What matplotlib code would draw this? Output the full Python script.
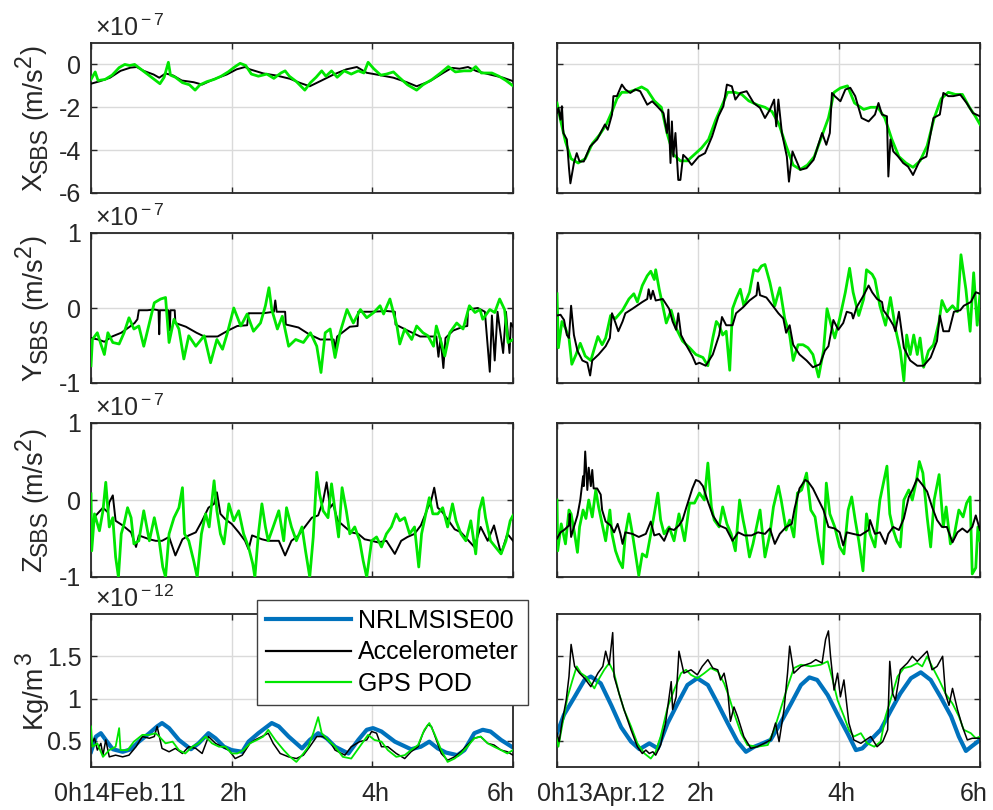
import numpy as np
import matplotlib
matplotlib.use('Agg')
import matplotlib.pyplot as plt
from matplotlib.lines import Line2D
from matplotlib.transforms import IdentityTransform

plt.rcParams['font.family'] = ['Liberation Sans', 'DejaVu Sans']
plt.rcParams['mathtext.fontset'] = 'custom'
plt.rcParams['mathtext.rm'] = 'Liberation Sans'
plt.rcParams['mathtext.it'] = 'Liberation Sans:italic'
plt.rcParams['axes.unicode_minus'] = False

# ---- data: (hour, value) ----
# X_SBS [1e-7 m/s^2]
X_FEB_ACC = [(0, -0.9), (0.13, -0.78), (0.27, -0.62), (0.42, -0.3), (0.56, -0.15), (0.65, -0.12), (0.75, -0.3),
             (0.89, -0.47), (0.97, -0.62), (1.06, -0.42), (1.17, -0.52), (1.29, -0.75), (1.46, -0.83), (1.58, -0.94),
             (1.74, -0.7), (1.93, -0.47), (2.07, -0.23), (2.19, -0.12), (2.26, -0.23), (2.45, -0.42), (2.64, -0.52),
             (2.83, -0.67), (2.97, -0.86), (3.11, -1.02), (3.26, -0.78), (3.45, -0.47), (3.63, -0.23), (3.78, -0.12),
             (3.92, -0.39), (4.11, -0.5), (4.3, -0.62), (4.49, -0.83), (4.63, -1.02), (4.82, -0.78), (5.01, -0.39),
             (5.13, -0.16), (5.24, -0.2), (5.36, -0.12), (5.48, -0.31), (5.67, -0.47), (5.86, -0.62), (6.0, -0.78)]
X_FEB_GPS = [(0, -0.7), (0.06, -0.35), (0.1, -0.75), (0.2, -0.7), (0.3, -0.5), (0.4, -0.15), (0.48, 0.0),
             (0.55, -0.05), (0.62, 0.0), (0.7, -0.2), (0.8, -0.45), (0.9, -0.7), (0.98, -0.9), (1.04, -0.6),
             (1.1, 0.1), (1.13, -0.5), (1.2, -0.6), (1.3, -0.85), (1.4, -0.95), (1.48, -1.2), (1.55, -0.95),
             (1.65, -0.8), (1.75, -0.7), (1.85, -0.55), (1.95, -0.35), (2.05, -0.1), (2.12, 0.05), (2.2, -0.05),
             (2.28, -0.45), (2.38, -0.55), (2.5, -0.45), (2.6, -0.65), (2.7, -0.4), (2.76, -0.3), (2.82, -0.55),
             (2.92, -0.8), (3.04, -1.2), (3.12, -0.85), (3.2, -0.6), (3.28, -0.3), (3.34, -0.55), (3.42, -0.3),
             (3.5, -0.6), (3.6, -0.3), (3.7, -0.45), (3.8, -0.3), (3.88, -0.4), (3.94, 0.1), (4.02, -0.2),
             (4.12, -0.5), (4.2, -0.45), (4.3, -0.35), (4.38, -0.6), (4.5, -0.95), (4.63, -1.2), (4.72, -0.95),
             (4.85, -0.7), (4.97, -0.4), (5.08, -0.1), (5.18, -0.35), (5.3, -0.3), (5.4, -0.3), (5.47, -0.1),
             (5.55, -0.4), (5.7, -0.4), (5.8, -0.55), (5.9, -0.75), (6.0, -1.0)]
X_APR_ACC = [(0, -2.27), (0.02, -2.03), (0.05, -2.58), (0.07, -1.95), (0.09, -3.2), (0.14, -3.5), (0.17, -4.84),
             (0.19, -5.55), (0.24, -4.6), (0.28, -4.14), (0.32, -4.53), (0.38, -4.53), (0.47, -3.83), (0.57, -3.5),
             (0.68, -2.8), (0.72, -3.05), (0.78, -2.34), (0.8, -1.48), (0.85, -1.48), (0.92, -0.94), (0.97, -1.17),
             (1.04, -1.33), (1.11, -1.17), (1.18, -1.25), (1.28, -1.88), (1.35, -1.72), (1.42, -1.95), (1.51, -2.27),
             (1.56, -3.2), (1.58, -2.11), (1.61, -4.6), (1.63, -2.66), (1.65, -4.3), (1.68, -3.2), (1.72, -5.39),
             (1.75, -5.39), (1.79, -4.22), (1.84, -4.38), (1.91, -4.69), (2.01, -4.3), (2.1, -4.14), (2.2, -3.36),
             (2.29, -2.42), (2.36, -1.95), (2.41, -0.94), (2.48, -1.02), (2.53, -1.64), (2.6, -1.33), (2.69, -1.25),
             (2.79, -1.8), (2.88, -2.03), (2.95, -2.5), (3.02, -2.11), (3.08, -1.64), (3.11, -2.89), (3.14, -1.64),
             (3.19, -3.2), (3.26, -4.3), (3.29, -5.47), (3.34, -4.06), (3.45, -4.92), (3.54, -4.84), (3.64, -4.45),
             (3.76, -3.2), (3.82, -3.75), (3.87, -3.2), (3.9, -1.33), (3.94, -1.48), (4.02, -1.72), (4.09, -1.17),
             (4.16, -1.09), (4.23, -1.48), (4.32, -2.5), (4.42, -2.66), (4.51, -2.34), (4.56, -1.8), (4.61, -2.34),
             (4.68, -2.42), (4.7, -5.23), (4.73, -3.5), (4.77, -4.06), (4.84, -4.3), (4.91, -4.6), (4.98, -4.77),
             (5.05, -5.16), (5.15, -4.45), (5.24, -4.3), (5.34, -2.5), (5.43, -2.34), (5.48, -1.33), (5.55, -1.48),
             (5.62, -1.48), (5.72, -1.41), (5.81, -1.8), (5.9, -2.27), (6.0, -2.42)]
X_APR_GPS = [(0, -1.8), (0.05, -2.6), (0.12, -3.6), (0.2, -4.4), (0.3, -4.6), (0.4, -4.4), (0.5, -3.7),
             (0.6, -3.3), (0.7, -2.8), (0.78, -2.2), (0.85, -1.6), (0.92, -1.3), (1.0, -1.3), (1.1, -1.2),
             (1.2, -1.05), (1.28, -1.2), (1.38, -1.7), (1.48, -2.0), (1.56, -3.2), (1.65, -4.2), (1.75, -4.5),
             (1.85, -4.5), (1.95, -4.2), (2.05, -3.9), (2.15, -3.5), (2.25, -2.6), (2.33, -2.0), (2.42, -1.3),
             (2.52, -1.3), (2.62, -1.4), (2.72, -1.7), (2.85, -1.9), (2.95, -2.0), (3.05, -2.2), (3.15, -2.8),
             (3.25, -3.8), (3.35, -4.7), (3.45, -4.9), (3.55, -4.7), (3.65, -4.3), (3.75, -3.4), (3.85, -2.5),
             (3.93, -1.3), (4.02, -1.1), (4.12, -1.0), (4.22, -1.8), (4.35, -2.1), (4.45, -2.0), (4.55, -2.0),
             (4.65, -2.5), (4.75, -3.5), (4.85, -4.3), (4.95, -4.6), (5.05, -4.8), (5.15, -4.5), (5.25, -3.8),
             (5.35, -2.5), (5.45, -1.6), (5.55, -1.3), (5.65, -1.4), (5.75, -1.4), (5.85, -2.0), (5.93, -2.4),
             (6.0, -2.8)]

# Y_SBS [1e-7 m/s^2]
Y_FEB_ACC = [(0, -0.4), (0.1, -0.42), (0.19, -0.45), (0.3, -0.38), (0.43, -0.33), (0.55, -0.25), (0.62, -0.2),
             (0.66, -0.15), (0.68, -0.03), (0.8, -0.03), (0.9, -0.02), (0.96, -0.03), (0.97, -0.35), (0.98, -0.03),
             (1.1, -0.03), (1.12, -0.3), (1.13, -0.03), (1.19, -0.03), (1.2, -0.2), (1.35, -0.25), (1.5, -0.33),
             (1.61, -0.38), (1.8, -0.38), (1.95, -0.3), (2.08, -0.24), (2.22, -0.23), (2.24, -0.07), (2.45, -0.07),
             (2.6, -0.05), (2.62, 0.1), (2.64, -0.05), (2.76, -0.05), (2.77, -0.22), (2.95, -0.26), (3.1, -0.35),
             (3.26, -0.42), (3.45, -0.42), (3.47, -0.55), (3.5, -0.38), (3.68, -0.25), (3.79, -0.24), (3.8, -0.05),
             (4.0, -0.05), (4.2, -0.04), (4.32, -0.05), (4.33, -0.22), (4.5, -0.3), (4.68, -0.38), (4.91, -0.38),
             (4.94, -0.65), (4.97, -0.4), (5.01, -0.8), (5.04, -0.4), (5.15, -0.3), (5.29, -0.25), (5.35, -0.24),
             (5.36, -0.02), (5.5, 0.0), (5.6, -0.05), (5.67, -0.85), (5.7, -0.1), (5.74, -0.7), (5.78, -0.05),
             (5.86, -0.6), (5.9, -0.05), (5.95, -0.6), (5.97, -0.2), (6.0, -0.25)]
Y_FEB_GPS = [(0, -0.77), (0.02, -0.42), (0.09, -0.33), (0.14, -0.48), (0.19, -0.62), (0.24, -0.33), (0.31, -0.46),
             (0.4, -0.48), (0.47, -0.33), (0.54, -0.13), (0.61, -0.28), (0.68, -0.24), (0.75, -0.51), (0.83, -0.2),
             (0.9, 0.07), (0.99, 0.12), (1.06, 0.14), (1.11, -0.46), (1.18, -0.15), (1.25, -0.28), (1.32, -0.68),
             (1.39, -0.37), (1.49, -0.51), (1.61, -0.37), (1.7, -0.73), (1.79, -0.42), (1.87, -0.55), (1.94, -0.33),
             (2.03, 0.0), (2.13, -0.24), (2.22, -0.08), (2.31, -0.31), (2.41, -0.2), (2.48, 0.03), (2.53, 0.27),
             (2.57, -0.02), (2.65, -0.28), (2.72, -0.11), (2.81, -0.51), (2.91, -0.42), (3.02, -0.46), (3.12, -0.33),
             (3.21, -0.51), (3.27, -0.86), (3.33, -0.33), (3.4, -0.28), (3.47, -0.66), (3.54, -0.33), (3.64, -0.02),
             (3.73, -0.2), (3.83, -0.02), (3.92, -0.13), (4.02, -0.06), (4.11, 0.03), (4.16, -0.08), (4.25, 0.12),
             (4.35, -0.24), (4.39, -0.48), (4.46, -0.28), (4.56, -0.42), (4.63, -0.24), (4.72, -0.33), (4.79, -0.37),
             (4.87, -0.51), (4.91, -0.24), (4.98, -0.46), (5.03, -0.64), (5.1, -0.33), (5.2, -0.2), (5.29, -0.28),
             (5.38, 0.03), (5.46, -0.06), (5.53, -0.02), (5.57, -0.15), (5.67, -0.02), (5.74, -0.06), (5.81, 0.12),
             (5.88, -0.02), (5.93, -0.46), (6.0, -0.42)]
Y_APR_ACC = [(0, -0.1), (0.05, -0.09), (0.1, -0.16), (0.14, -0.36), (0.17, -0.4), (0.2, 0.03), (0.24, -0.36),
             (0.29, -0.57), (0.36, -0.7), (0.43, -0.73), (0.47, -0.9), (0.5, -0.7), (0.59, -0.62), (0.69, -0.51),
             (0.75, -0.4), (0.78, -0.07), (0.83, -0.2), (0.87, -0.31), (0.93, -0.18), (0.97, -0.07), (1.07, -0.01),
             (1.21, 0.08), (1.28, 0.12), (1.3, 0.25), (1.33, 0.12), (1.36, 0.23), (1.4, 0.1), (1.5, 0.12),
             (1.59, -0.01), (1.64, -0.18), (1.69, -0.29), (1.72, -0.07), (1.76, -0.36), (1.83, -0.49), (1.92, -0.64),
             (1.97, -0.75), (2.02, -0.73), (2.11, -0.77), (2.21, -0.62), (2.3, -0.36), (2.34, -0.12), (2.4, -0.23),
             (2.49, -0.23), (2.54, -0.07), (2.64, 0.01), (2.73, 0.1), (2.83, 0.17), (2.85, 0.34), (2.88, 0.17),
             (2.97, 0.14), (3.06, 0.03), (3.14, -0.07), (3.21, -0.14), (3.25, -0.33), (3.3, -0.23), (3.35, -0.49),
             (3.44, -0.62), (3.54, -0.7), (3.63, -0.79), (3.73, -0.75), (3.8, -0.57), (3.85, -0.51), (3.92, -0.16),
             (3.99, -0.29), (4.06, -0.2), (4.11, -0.05), (4.18, -0.07), (4.2, -0.14), (4.25, 0.01), (4.35, 0.17),
             (4.42, 0.3), (4.47, 0.21), (4.54, 0.12), (4.61, 0.08), (4.63, -0.03), (4.7, -0.12), (4.77, -0.23),
             (4.8, -0.31), (4.85, -0.05), (4.92, -0.53), (5.01, -0.7), (5.11, -0.77), (5.2, -0.77), (5.3, -0.66),
             (5.39, -0.44), (5.43, -0.1), (5.48, -0.31), (5.56, -0.31), (5.63, -0.05), (5.72, -0.03), (5.77, 0.03),
             (5.87, 0.08), (5.94, 0.21), (6.0, 0.19)]
Y_APR_GPS = [(0, 0.19), (0.02, -0.53), (0.07, -0.18), (0.12, -0.27), (0.17, -0.4), (0.21, -0.75), (0.27, -0.62),
             (0.33, -0.47), (0.4, -0.64), (0.48, -0.7), (0.52, -0.57), (0.58, -0.38), (0.64, -0.49), (0.69, -0.4),
             (0.76, -0.1), (0.83, -0.14), (0.93, -0.03), (1.02, 0.12), (1.09, 0.19), (1.14, 0.08), (1.21, 0.3),
             (1.28, 0.43), (1.33, 0.49), (1.38, 0.38), (1.4, 0.51), (1.45, 0.25), (1.5, 0.03), (1.55, -0.2),
             (1.62, -0.03), (1.69, -0.27), (1.78, -0.44), (1.88, -0.53), (1.97, -0.62), (2.07, -0.66), (2.14, -0.77),
             (2.21, -0.4), (2.26, -0.18), (2.3, -0.23), (2.35, -0.36), (2.4, -0.31), (2.45, -0.83), (2.49, -0.01),
             (2.54, 0.12), (2.6, 0.25), (2.65, 0.03), (2.73, 0.21), (2.79, 0.51), (2.85, 0.49), (2.9, 0.56),
             (2.95, 0.58), (3.02, 0.34), (3.09, 0.03), (3.16, 0.27), (3.23, -0.14), (3.3, -0.36), (3.35, -0.7),
             (3.42, -0.49), (3.49, -0.49), (3.56, -0.53), (3.63, -0.62), (3.71, -0.92), (3.78, -0.57), (3.83, -0.01),
             (3.9, -0.27), (3.94, -0.4), (4.01, -0.14), (4.09, 0.21), (4.15, 0.53), (4.2, 0.21), (4.28, -0.1),
             (4.35, 0.12), (4.39, 0.51), (4.47, 0.45), (4.51, 0.38), (4.58, 0.03), (4.66, -0.23), (4.73, 0.14),
             (4.8, -0.27), (4.87, -0.57), (4.92, -0.97), (4.96, -0.36), (5.01, -0.62), (5.06, -0.36), (5.11, -0.62),
             (5.15, -0.4), (5.2, -0.79), (5.27, -0.57), (5.34, -0.49), (5.42, -0.18), (5.46, 0.1), (5.53, -0.05),
             (5.61, 0.03), (5.68, -0.05), (5.73, 0.71), (5.8, 0.25), (5.86, -0.31), (5.91, 0.47), (5.96, -0.23),
             (6.0, 0.19)]

# Z_SBS [1e-7 m/s^2]
Z_FEB_ACC = [(0, -0.31), (0.07, -0.2), (0.17, -0.1), (0.24, -0.16), (0.26, -0.03), (0.31, 0.06), (0.35, -0.27),
             (0.45, -0.33), (0.57, -0.42), (0.64, -0.61), (0.68, -0.46), (0.83, -0.51), (0.92, -0.53), (1.01, -0.53),
             (1.11, -0.48), (1.2, -0.72), (1.3, -0.51), (1.39, -0.46), (1.49, -0.42), (1.58, -0.27), (1.67, -0.1),
             (1.75, -0.05), (1.79, 0.1), (1.84, -0.18), (1.91, -0.25), (2.0, -0.31), (2.1, -0.42), (2.19, -0.53),
             (2.24, -0.64), (2.29, -0.46), (2.43, -0.51), (2.52, -0.53), (2.67, -0.53), (2.76, -0.72), (2.85, -0.53),
             (2.95, -0.46), (3.04, -0.35), (3.14, -0.23), (3.23, -0.2), (3.3, -0.01), (3.35, 0.23), (3.4, -0.1),
             (3.44, -0.05), (3.51, -0.27), (3.61, -0.35), (3.7, -0.42), (3.8, -0.44), (3.89, -0.51), (3.99, -0.53),
             (4.08, -0.55), (4.2, -0.53), (4.32, -0.7), (4.41, -0.53), (4.5, -0.48), (4.6, -0.44), (4.69, -0.33),
             (4.79, -0.1), (4.83, -0.03), (4.88, 0.16), (4.93, -0.1), (4.98, -0.14), (5.07, -0.25), (5.17, -0.38),
             (5.26, -0.42), (5.35, -0.51), (5.45, -0.61), (5.54, -0.35), (5.64, -0.53), (5.73, -0.33), (5.83, -0.7),
             (5.92, -0.44), (6.0, -0.53)]
Z_FEB_GPS = [(0, 0.08), (0.01, -0.66), (0.05, -0.18), (0.12, -0.4), (0.17, -0.14), (0.21, 0.23), (0.26, -0.35),
             (0.31, -0.23), (0.35, -0.74), (0.39, -1.0), (0.43, -0.44), (0.47, -0.31), (0.52, -0.1), (0.57, -0.23),
             (0.61, -0.57), (0.68, -0.53), (0.75, -0.14), (0.83, -0.53), (0.9, -0.23), (0.97, -0.53), (1.02, -0.87),
             (1.06, -1.0), (1.11, -0.44), (1.18, -0.23), (1.25, -0.1), (1.3, 0.16), (1.33, -0.44), (1.39, -0.53),
             (1.46, -0.79), (1.51, -1.0), (1.57, -0.44), (1.63, -0.18), (1.68, -0.35), (1.75, 0.25), (1.79, -0.14),
             (1.84, -0.44), (1.89, -0.57), (1.96, -0.05), (2.03, -0.27), (2.1, -0.14), (2.17, -0.44), (2.24, -0.61),
             (2.3, -0.83), (2.33, -1.0), (2.38, -0.44), (2.43, -0.05), (2.48, -0.35), (2.52, -0.53), (2.59, -0.35),
             (2.67, -0.14), (2.74, -0.53), (2.78, -0.1), (2.85, -0.35), (2.92, -0.53), (3.0, -0.35), (3.05, -0.66),
             (3.11, -1.0), (3.16, -0.48), (3.21, 0.36), (3.25, 0.08), (3.3, -0.14), (3.37, -0.23), (3.42, 0.21),
             (3.47, -0.14), (3.52, -0.48), (3.57, 0.16), (3.63, -0.14), (3.68, -0.44), (3.75, -0.35), (3.82, -0.53),
             (3.87, -0.79), (3.92, -1.0), (3.99, -0.53), (4.06, -0.48), (4.13, -0.61), (4.2, -0.44), (4.27, -0.35),
             (4.34, -0.18), (4.39, -0.27), (4.46, -0.23), (4.53, -0.44), (4.6, -0.35), (4.66, -0.87), (4.7, -0.44),
             (4.76, -0.18), (4.81, 0.03), (4.86, -0.18), (4.93, -0.18), (5.0, -0.1), (5.07, -0.35), (5.14, -0.05),
             (5.19, -0.27), (5.26, -0.44), (5.33, -0.53), (5.4, -0.27), (5.47, -0.7), (5.52, -0.14), (5.57, 0.03),
             (5.61, -0.23), (5.68, -0.53), (5.75, -0.61), (5.83, -0.7), (5.9, -0.53), (5.96, -0.27), (6.0, -0.2)]
Z_APR_ACC = [(0, -0.5), (0.05, -0.42), (0.1, -0.39), (0.17, -0.33), (0.18, -0.18), (0.2, -0.48), (0.24, -0.35),
             (0.29, -0.2), (0.33, 0.0), (0.37, 0.31), (0.38, 0.18), (0.4, 0.63), (0.43, 0.13), (0.45, 0.42),
             (0.48, 0.18), (0.5, 0.39), (0.52, 0.15), (0.57, 0.15), (0.62, 0.07), (0.64, -0.13), (0.69, -0.28),
             (0.76, -0.33), (0.81, -0.42), (0.86, -0.31), (0.9, -0.44), (0.93, -0.57), (0.97, -0.42), (1.07, -0.44),
             (1.16, -0.48), (1.26, -0.44), (1.33, -0.28), (1.38, -0.46), (1.45, -0.44), (1.52, -0.53), (1.59, -0.37),
             (1.66, -0.39), (1.73, -0.33), (1.78, -0.26), (1.83, -0.11), (1.92, 0.15), (1.97, 0.26), (2.02, 0.24),
             (2.07, 0.18), (2.14, -0.02), (2.21, -0.2), (2.3, -0.33), (2.4, -0.37), (2.49, -0.53), (2.57, -0.42),
             (2.66, -0.46), (2.76, -0.46), (2.85, -0.42), (2.95, -0.44), (3.02, -0.37), (3.09, -0.57), (3.16, -0.44),
             (3.25, -0.35), (3.33, -0.31), (3.37, -0.11), (3.44, 0.15), (3.52, 0.26), (3.56, 0.24), (3.63, 0.15),
             (3.71, 0.0), (3.78, -0.13), (3.85, -0.35), (3.94, -0.37), (4.01, -0.42), (4.06, -0.59), (4.11, -0.42),
             (4.2, -0.44), (4.3, -0.46), (4.42, -0.39), (4.44, -0.26), (4.51, -0.44), (4.58, -0.42), (4.66, -0.57),
             (4.7, -0.44), (4.77, -0.35), (4.85, -0.39), (4.92, -0.24), (4.99, 0.04), (5.04, 0.13), (5.11, 0.28),
             (5.18, 0.2), (5.25, 0.11), (5.32, -0.09), (5.39, -0.26), (5.46, -0.35), (5.53, -0.35), (5.61, -0.55),
             (5.68, -0.42), (5.75, -0.37), (5.82, -0.42), (5.89, -0.35), (5.94, -0.2), (6.0, -0.39)]
Z_APR_GPS = [(0, 0.0), (0.01, -0.66), (0.06, -0.31), (0.12, -0.57), (0.17, -0.13), (0.2, -0.18), (0.25, -0.44),
             (0.29, -0.68), (0.32, -0.35), (0.37, -0.13), (0.41, -0.24), (0.45, 0.0), (0.5, -0.22), (0.55, 0.13),
             (0.59, -0.09), (0.64, -0.31), (0.69, -0.53), (0.75, -0.13), (0.78, -0.44), (0.83, -0.66), (0.88, -0.79),
             (0.93, -0.88), (0.97, -0.44), (1.02, -0.18), (1.07, -0.44), (1.12, -0.74), (1.16, -0.98), (1.21, -0.7),
             (1.27, -0.74), (1.33, -0.44), (1.38, -0.18), (1.43, 0.09), (1.47, -0.26), (1.52, -0.44), (1.59, -0.35),
             (1.66, -0.53), (1.73, -0.18), (1.81, -0.53), (1.88, -0.04), (1.95, -0.04), (2.02, 0.09), (2.09, 0.0),
             (2.14, 0.48), (2.19, -0.09), (2.23, -0.26), (2.3, -0.35), (2.35, -0.09), (2.41, -0.31), (2.47, -0.44),
             (2.53, -0.66), (2.59, 0.0), (2.64, -0.26), (2.68, -0.44), (2.73, -0.74), (2.78, -0.57), (2.83, -0.35),
             (2.88, -0.13), (2.95, -0.74), (3.02, -0.44), (3.07, -0.09), (3.14, 0.18), (3.18, 0.0), (3.25, -0.39),
             (3.3, -0.26), (3.36, -0.48), (3.41, 0.09), (3.47, 0.13), (3.54, 0.35), (3.6, -0.13), (3.66, -0.22),
             (3.71, -0.53), (3.77, -0.83), (3.82, 0.22), (3.87, -0.18), (3.94, -0.35), (4.01, -0.61), (4.07, -0.7),
             (4.13, -0.13), (4.18, 0.04), (4.23, -0.26), (4.28, -0.53), (4.34, -0.92), (4.39, -0.18), (4.44, -0.44),
             (4.51, -0.61), (4.58, 0.0), (4.63, 0.22), (4.68, 0.44), (4.72, -0.18), (4.77, -0.39), (4.82, -0.53),
             (4.87, -0.61), (4.92, 0.0), (4.99, 0.13), (5.04, 0.0), (5.1, 0.26), (5.14, 0.5), (5.19, 0.35),
             (5.25, -0.22), (5.3, -0.61), (5.35, 0.0), (5.42, 0.33), (5.48, -0.35), (5.52, -0.09), (5.58, -0.57),
             (5.63, -0.48), (5.7, -0.13), (5.76, -0.22), (5.81, -0.04), (5.86, 0.04), (5.89, -0.96), (5.94, -0.88),
             (5.97, -0.35), (6.0, -0.53)]

# density [1e-12 kg/m^3]
RHO_FEB_MSIS = [(0, 0.37), (0.07, 0.55), (0.14, 0.59), (0.21, 0.51), (0.31, 0.4), (0.45, 0.37), (0.57, 0.4),
                (0.68, 0.49), (0.83, 0.59), (0.94, 0.67), (1.01, 0.71), (1.11, 0.65), (1.25, 0.51), (1.42, 0.4),
                (1.53, 0.47), (1.67, 0.59), (1.77, 0.53), (1.89, 0.43), (2.0, 0.39), (2.15, 0.37), (2.24, 0.49),
                (2.38, 0.59), (2.57, 0.71), (2.67, 0.67), (2.81, 0.55), (3.0, 0.41), (3.11, 0.51), (3.23, 0.59),
                (3.35, 0.53), (3.47, 0.43), (3.66, 0.35), (3.8, 0.51), (3.92, 0.63), (4.01, 0.65), (4.13, 0.61),
                (4.32, 0.49), (4.55, 0.4), (4.69, 0.43), (4.81, 0.49), (4.93, 0.41), (5.05, 0.36), (5.21, 0.33),
                (5.31, 0.39), (5.45, 0.59), (5.57, 0.63), (5.68, 0.61), (5.83, 0.51), (6.0, 0.42)]
RHO_FEB_ACC = [(0, 0.45), (0.05, 0.53), (0.09, 0.39), (0.14, 0.47), (0.17, 0.33), (0.21, 0.51), (0.26, 0.31),
               (0.35, 0.33), (0.45, 0.31), (0.54, 0.33), (0.64, 0.43), (0.73, 0.55), (0.83, 0.53), (0.9, 0.55),
               (0.94, 0.67), (1.01, 0.41), (1.11, 0.37), (1.2, 0.41), (1.3, 0.35), (1.39, 0.43), (1.49, 0.41),
               (1.58, 0.35), (1.67, 0.55), (1.77, 0.47), (1.86, 0.43), (1.96, 0.39), (2.05, 0.29), (2.15, 0.33),
               (2.26, 0.47), (2.33, 0.51), (2.43, 0.55), (2.52, 0.59), (2.59, 0.47), (2.69, 0.35), (2.81, 0.31),
               (2.92, 0.29), (3.02, 0.33), (3.11, 0.43), (3.21, 0.55), (3.3, 0.55), (3.4, 0.49), (3.47, 0.39),
               (3.61, 0.33), (3.7, 0.43), (3.82, 0.49), (3.92, 0.51), (3.99, 0.61), (4.06, 0.59), (4.13, 0.43),
               (4.22, 0.43), (4.34, 0.35), (4.46, 0.29), (4.55, 0.37), (4.65, 0.43), (4.72, 0.59), (4.79, 0.69),
               (4.84, 0.67), (4.91, 0.51), (4.98, 0.35), (5.07, 0.27), (5.17, 0.31), (5.26, 0.37), (5.35, 0.45),
               (5.45, 0.53), (5.54, 0.55), (5.64, 0.47), (5.73, 0.45), (5.83, 0.39), (5.92, 0.37), (6.0, 0.33)]
RHO_FEB_GPS = [(0, 0.67), (0.02, 0.43), (0.09, 0.47), (0.17, 0.31), (0.26, 0.39), (0.35, 0.43), (0.4, 0.65),
               (0.42, 0.39), (0.52, 0.39), (0.61, 0.49), (0.73, 0.57), (0.83, 0.57), (0.92, 0.59), (0.97, 0.55),
               (1.06, 0.47), (1.16, 0.49), (1.25, 0.39), (1.34, 0.35), (1.44, 0.43), (1.53, 0.47), (1.63, 0.55),
               (1.72, 0.47), (1.82, 0.43), (1.91, 0.43), (2.0, 0.35), (2.08, 0.35), (2.17, 0.39), (2.26, 0.47),
               (2.36, 0.51), (2.45, 0.55), (2.52, 0.63), (2.62, 0.51), (2.74, 0.39), (2.83, 0.31), (2.92, 0.25),
               (3.02, 0.35), (3.09, 0.43), (3.16, 0.59), (3.23, 0.78), (3.28, 0.59), (3.37, 0.51), (3.47, 0.43),
               (3.58, 0.31), (3.7, 0.29), (3.82, 0.43), (3.94, 0.57), (4.03, 0.51), (4.13, 0.49), (4.22, 0.39),
               (4.34, 0.31), (4.46, 0.33), (4.55, 0.39), (4.65, 0.45), (4.74, 0.63), (4.81, 0.71), (4.88, 0.59),
               (4.98, 0.39), (5.07, 0.25), (5.17, 0.29), (5.26, 0.35), (5.35, 0.43), (5.45, 0.53), (5.54, 0.55),
               (5.64, 0.47), (5.73, 0.43), (5.83, 0.39), (5.92, 0.35), (6.0, 0.39)]
RHO_APR_MSIS = [(0, 0.59), (0.1, 0.81), (0.25, 1.02), (0.39, 1.22), (0.48, 1.26), (0.62, 1.18), (0.77, 0.92),
                (0.91, 0.66), (1.05, 0.49), (1.17, 0.4), (1.31, 0.47), (1.43, 0.41), (1.57, 0.71), (1.71, 0.94),
                (1.85, 1.16), (1.99, 1.24), (2.14, 1.16), (2.28, 0.94), (2.42, 0.71), (2.56, 0.49), (2.68, 0.37),
                (2.8, 0.43), (2.89, 0.46), (3.03, 0.51), (3.17, 0.71), (3.32, 0.94), (3.46, 1.16), (3.58, 1.25),
                (3.69, 1.22), (3.84, 1.04), (3.98, 0.81), (4.12, 0.59), (4.24, 0.39), (4.33, 0.41), (4.45, 0.51),
                (4.59, 0.63), (4.73, 0.85), (4.87, 1.06), (5.02, 1.24), (5.16, 1.31), (5.3, 1.22), (5.44, 1.02),
                (5.59, 0.79), (5.7, 0.55), (5.8, 0.38), (5.89, 0.44), (6.0, 0.51)]
RHO_APR_ACC = [(0, 0.59), (0.03, 0.49), (0.07, 0.71), (0.13, 0.98), (0.17, 1.26), (0.2, 1.64), (0.25, 1.38),
               (0.32, 1.3), (0.39, 1.24), (0.48, 1.14), (0.58, 1.3), (0.65, 1.38), (0.69, 1.56), (0.74, 1.4),
               (0.79, 1.78), (0.81, 1.26), (0.88, 1.06), (0.95, 0.87), (1.05, 0.63), (1.14, 0.43), (1.21, 0.35),
               (1.26, 0.39), (1.31, 0.35), (1.36, 0.37), (1.4, 0.33), (1.47, 0.45), (1.54, 0.71), (1.62, 1.2),
               (1.64, 0.87), (1.69, 1.02), (1.73, 1.56), (1.8, 1.3), (1.9, 1.34), (1.99, 1.28), (2.06, 1.38),
               (2.14, 1.46), (2.21, 1.36), (2.28, 1.34), (2.32, 1.22), (2.37, 1.3), (2.42, 1.1), (2.46, 0.73),
               (2.51, 0.9), (2.56, 0.79), (2.65, 0.55), (2.75, 0.41), (2.84, 0.43), (2.94, 0.47), (3.03, 0.51),
               (3.1, 0.71), (3.15, 0.49), (3.22, 0.87), (3.27, 1.3), (3.3, 1.62), (3.36, 1.3), (3.46, 1.38),
               (3.6, 1.42), (3.67, 1.46), (3.76, 1.42), (3.81, 1.7), (3.85, 1.8), (3.88, 1.5), (3.93, 1.1),
               (3.98, 1.3), (4.02, 1.02), (4.07, 1.22), (4.14, 0.71), (4.21, 0.51), (4.31, 0.47), (4.45, 0.55),
               (4.54, 0.43), (4.62, 0.49), (4.69, 0.63), (4.72, 1.44), (4.76, 1.06), (4.8, 0.98), (4.87, 1.34),
               (4.97, 1.42), (5.04, 1.5), (5.11, 1.44), (5.18, 1.5), (5.25, 1.56), (5.32, 1.34), (5.39, 1.38),
               (5.47, 1.5), (5.51, 1.06), (5.56, 0.92), (5.61, 1.12), (5.68, 0.87), (5.75, 0.67), (5.82, 0.51),
               (5.89, 0.53), (6.0, 0.53)]
RHO_APR_GPS = [(0, 0.55), (0.02, 0.43), (0.08, 0.71), (0.15, 1.02), (0.22, 1.22), (0.28, 1.38), (0.34, 1.3),
               (0.41, 1.26), (0.48, 1.18), (0.53, 1.12), (0.6, 1.24), (0.67, 1.34), (0.74, 1.42), (0.81, 1.3),
               (0.88, 1.06), (0.95, 0.87), (1.05, 0.67), (1.14, 0.47), (1.24, 0.35), (1.33, 0.29), (1.4, 0.37),
               (1.47, 0.55), (1.57, 0.9), (1.66, 1.1), (1.76, 1.3), (1.83, 1.34), (1.9, 1.28), (1.99, 1.24),
               (2.09, 1.3), (2.18, 1.36), (2.28, 1.32), (2.37, 1.18), (2.44, 1.02), (2.51, 0.83), (2.61, 0.59),
               (2.7, 0.45), (2.84, 0.43), (2.99, 0.45), (3.08, 0.63), (3.17, 0.87), (3.27, 1.14), (3.36, 1.36),
               (3.46, 1.4), (3.6, 1.38), (3.74, 1.4), (3.84, 1.44), (3.91, 1.22), (3.98, 0.98), (4.07, 0.79),
               (4.14, 0.63), (4.21, 0.55), (4.31, 0.59), (4.4, 0.47), (4.5, 0.43), (4.59, 0.49), (4.66, 0.79),
               (4.73, 0.98), (4.83, 1.26), (4.92, 1.36), (5.02, 1.38), (5.11, 1.42), (5.18, 1.38), (5.25, 1.5),
               (5.32, 1.38), (5.42, 1.22), (5.51, 1.06), (5.61, 0.94), (5.7, 0.79), (5.77, 0.63), (5.87, 0.59),
               (5.94, 0.53), (6.0, 0.55)]

HOUR_TICKS = [0, 2, 4, 6]
FEB_LABELS = ['0h14Feb.11', '2h', '4h', '6h']
APR_LABELS = ['0h13Apr.12', '2h', '4h', '6h']
FEB_LABEL_POS = [0.41, 2.03, 4.04, 5.83]
APR_LABEL_POS = [0.62, 2.04, 4.04, 5.91]
# y-label pieces: (text, size scale, baseline shift in em, gap before in em)
YLABEL_PIECES = [
    [('X', 1.0, 0.0, 0.0), ('SBS', 0.85, -0.22, 0.0), ('(m/s', 1.0, 0.0, 0.28), ('2', 0.85, 0.38, 0.0), (')', 1.0, 0.0, 0.0)],
    [('Y', 1.0, 0.0, 0.0), ('SBS', 0.85, -0.22, 0.0), ('(m/s', 1.0, 0.0, 0.28), ('2', 0.85, 0.38, 0.0), (')', 1.0, 0.0, 0.0)],
    [('Z', 1.0, 0.0, 0.0), ('SBS', 0.85, -0.22, 0.0), ('(m/s', 1.0, 0.0, 0.28), ('2', 0.85, 0.38, 0.0), (')', 1.0, 0.0, 0.0)],
    [('Kg/m', 1.0, 0.0, 0.0), ('3', 0.85, 0.38, 0.0)],
]
SCALES = ['×10$^{\\rm -7}$', '×10$^{\\rm -7}$', '×10$^{\\rm -7}$', '×10$^{\\rm -12}$']
YLIMS = [(-6, 1), (-1, 1), (-1, 1), (0.19, 2.0)]
YTICKS = [[-6, -4, -2, 0], [-1, 0, 1], [-1, 0, 1], [0.5, 1, 1.5]]
YTICKLABELS = [['-6', '-4', '-2', '0'], ['-1', '0', '1'], ['-1', '0', '1'], ['0.5', '1', '1.5']]
SERIES_NAMES = ['NRLMSISE00', 'Accelerometer', 'GPS POD']

GREEN = '#00e600'
BLUE = '#0072bd'
DARK = '#262626'

panels = [
    [(X_FEB_ACC, X_FEB_GPS, None), (X_APR_ACC, X_APR_GPS, None)],
    [(Y_FEB_ACC, Y_FEB_GPS, None), (Y_APR_ACC, Y_APR_GPS, None)],
    [(Z_FEB_ACC, Z_FEB_GPS, None), (Z_APR_ACC, Z_APR_GPS, None)],
    [(RHO_FEB_ACC, RHO_FEB_GPS, RHO_FEB_MSIS), (RHO_APR_ACC, RHO_APR_GPS, RHO_APR_MSIS)],
]

W, H = 993, 810
rows_px = [(43, 193), (233, 383), (423, 577), (614, 767)]
cols_px = [(91, 513), (557, 980)]

fig = plt.figure(figsize=(W / 100, H / 100), dpi=100)
renderer = fig.canvas.get_renderer()


def vertical_label(pieces, x_base, y_center, fs):
    """rotated y label built from pieces, so sub/superscripts keep MATLAB-like size"""
    em = fs * fig.dpi / 72.0
    items = []
    total = 0.0
    for s, scale, shift, gap in pieces:
        t = fig.text(0, 0, s, rotation=90, rotation_mode='anchor', ha='left', va='baseline',
                     fontsize=fs * scale, color=DARK, transform=IdentityTransform())
        length = t.get_window_extent(renderer).height
        total += gap * em + length
        items.append((t, shift, gap, length))
    y = y_center - total / 2
    for t, shift, gap, length in items:
        y += gap * em
        t.set_position((x_base - shift * em, y))
        y += length


for r, (top, bot) in enumerate(rows_px):
    for c, (x0, x1) in enumerate(cols_px):
        ax = fig.add_axes([x0 / W, 1 - bot / H, (x1 - x0) / W, (bot - top) / H])
        acc, gps, msis = panels[r][c]
        acc = np.array(acc)
        gps = np.array(gps)
        lw_g = 1.3 if r == 3 else 2.0
        lw_k = 1.1 if r == 3 else 1.4
        if msis is not None:
            msis = np.array(msis)
            ax.plot(msis[:, 0], msis[:, 1], color=BLUE, lw=3.0, zorder=2)
        if c == 0:
            ax.plot(acc[:, 0], acc[:, 1], color='black', lw=lw_k, zorder=3)
            ax.plot(gps[:, 0], gps[:, 1], color=GREEN, lw=lw_g, zorder=4)
        else:
            ax.plot(gps[:, 0], gps[:, 1], color=GREEN, lw=lw_g, zorder=3)
            ax.plot(acc[:, 0], acc[:, 1], color='black', lw=lw_k, zorder=4)

        ax.set_xlim(0, 6)
        ax.set_ylim(*YLIMS[r])
        ax.set_xticks(HOUR_TICKS)
        ax.set_yticks(YTICKS[r])
        ax.grid(True, color='#dadada', linewidth=1.0)
        ax.set_axisbelow(True)
        ax.tick_params(direction='in', length=4, width=1.0, color=DARK, top=True, right=True,
                       labelbottom=False, labelsize=18, pad=7, labelcolor=DARK)
        for s in ax.spines.values():
            s.set_color(DARK)
            s.set_linewidth(1.3)
        if c == 0:
            ax.set_yticklabels(YTICKLABELS[r])
            vertical_label(YLABEL_PIECES[r], 41, H - (top + bot) / 2, 19.5)
            ax.text(0.01, 1.01, SCALES[r], transform=ax.transAxes, ha='left', va='bottom',
                    fontsize=18, color=DARK)
        else:
            ax.tick_params(labelleft=False)
        if r == 3:
            labs = FEB_LABELS if c == 0 else APR_LABELS
            pos = FEB_LABEL_POS if c == 0 else APR_LABEL_POS
            for p, lab in zip(pos, labs):
                ax.text(p, -0.1, lab, transform=ax.get_xaxis_transform(), ha='center', va='top',
                        fontsize=18, color=DARK)

handles = [Line2D([], [], color=BLUE, lw=3.0), Line2D([], [], color='black', lw=1.6),
           Line2D([], [], color=GREEN, lw=1.6)]
leg = fig.legend(handles, SERIES_NAMES, loc='upper left', bbox_to_anchor=(257 / W, 1 - 600 / H),
                 fontsize=18, frameon=True, fancybox=False, edgecolor='#404040', framealpha=1,
                 borderpad=0.35, handlelength=3.4, handletextpad=0.3, labelspacing=0.3, borderaxespad=0)
leg.get_frame().set_linewidth(1.0)

fig.savefig('out.png', dpi=100)
